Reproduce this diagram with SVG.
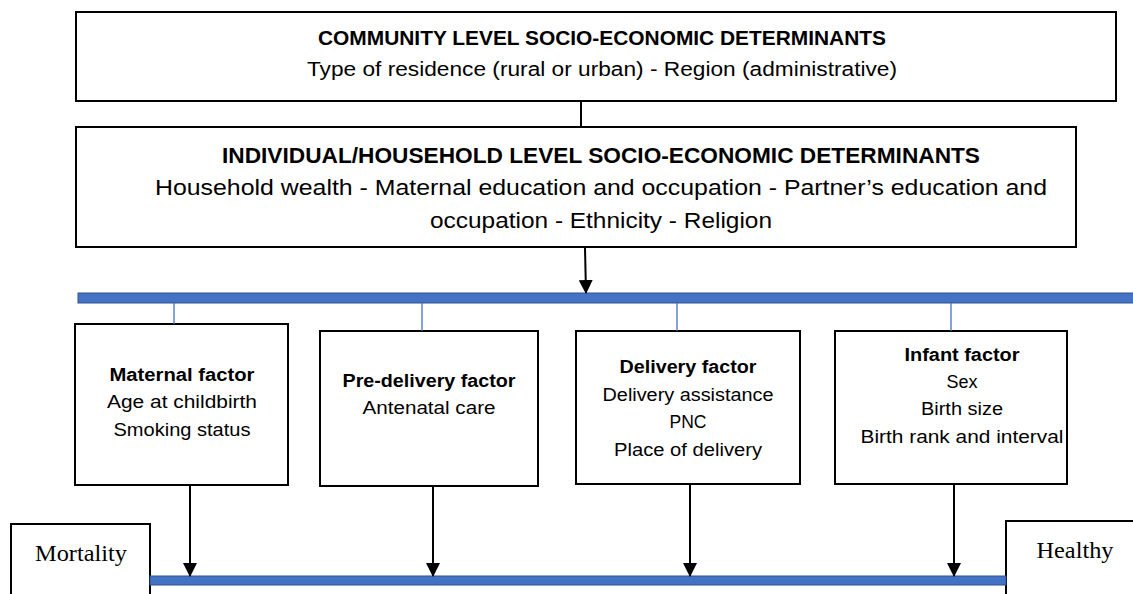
<svg xmlns="http://www.w3.org/2000/svg" width="1133" height="594" viewBox="0 0 1133 594">
<style>
.box{fill:#fff;stroke:#000;stroke-width:2}
.t{font-family:"Liberation Sans",Arial,sans-serif;text-anchor:middle;fill:#000}
.b{font-weight:bold}
.tm{font-family:"Liberation Serif","Times New Roman",serif;text-anchor:middle;fill:#000;font-size:23px}
.bar{fill:#4472C4;stroke:#2F528F;stroke-width:1}
.tick{stroke:#4472C4;stroke-width:1.3}
.arr{stroke:#000;stroke-width:2;fill:none}
</style>
<defs>
<marker id="ah" viewBox="0 0 14 14" refX="13" refY="7" markerWidth="14" markerHeight="14" markerUnits="userSpaceOnUse" orient="auto">
<path d="M0,0 L14,7 L0,14 Z" fill="#000"/>
</marker>
</defs>
<rect width="1133" height="594" fill="#fff"/>
<g id="community">
<rect class="box" x="76" y="12" width="1040" height="89"/>
<text class="t b" x="602" y="45" font-size="20" textLength="568" lengthAdjust="spacingAndGlyphs">COMMUNITY LEVEL SOCIO-ECONOMIC DETERMINANTS</text>
<text class="t" x="602" y="76" font-size="20" textLength="590" lengthAdjust="spacingAndGlyphs">Type of residence (rural or urban) - Region (administrative)</text>
</g>
<g id="individual">
<rect class="box" x="76" y="127" width="1000" height="120"/>
<text class="t b" x="601" y="163" font-size="22" textLength="758" lengthAdjust="spacingAndGlyphs">INDIVIDUAL/HOUSEHOLD LEVEL SOCIO-ECONOMIC DETERMINANTS</text>
<text class="t" x="601" y="195" font-size="22" textLength="892" lengthAdjust="spacingAndGlyphs">Household wealth - Maternal education and occupation - Partner’s education and</text>
<text class="t" x="601" y="228" font-size="22" textLength="342" lengthAdjust="spacingAndGlyphs">occupation - Ethnicity - Religion</text>
</g>
<g id="bar-top">
<rect class="bar" x="78" y="293" width="1060" height="10"/>
</g>
<g id="maternal">
<rect class="box" x="75" y="324" width="213" height="161"/>
<text class="t b" x="182" y="381" font-size="17.5" textLength="145" lengthAdjust="spacingAndGlyphs">Maternal factor</text>
<text class="t" x="182" y="408" font-size="17.5" textLength="150" lengthAdjust="spacingAndGlyphs">Age at childbirth</text>
<text class="t" x="182" y="436" font-size="17.5" textLength="137" lengthAdjust="spacingAndGlyphs">Smoking status</text>
</g>
<g id="predelivery">
<rect class="box" x="320" y="331" width="218" height="155"/>
<text class="t b" x="429" y="387" font-size="17.5" textLength="173" lengthAdjust="spacingAndGlyphs">Pre-delivery factor</text>
<text class="t" x="429" y="414" font-size="17.5" textLength="133" lengthAdjust="spacingAndGlyphs">Antenatal care</text>
</g>
<g id="delivery">
<rect class="box" x="576" y="331" width="224" height="153"/>
<text class="t b" x="688" y="373" font-size="17.5" textLength="137" lengthAdjust="spacingAndGlyphs">Delivery factor</text>
<text class="t" x="688" y="401" font-size="17.5" textLength="171" lengthAdjust="spacingAndGlyphs">Delivery assistance</text>
<text class="t" x="688" y="428" font-size="17.5" textLength="37" lengthAdjust="spacingAndGlyphs">PNC</text>
<text class="t" x="688" y="456" font-size="17.5" textLength="148" lengthAdjust="spacingAndGlyphs">Place of delivery</text>
</g>
<g id="infant">
<rect class="box" x="835" y="331" width="232" height="153"/>
<text class="t b" x="962" y="361" font-size="17.5" textLength="115" lengthAdjust="spacingAndGlyphs">Infant factor</text>
<text class="t" x="962" y="388" font-size="17.5" textLength="31" lengthAdjust="spacingAndGlyphs">Sex</text>
<text class="t" x="962" y="415" font-size="17.5" textLength="82" lengthAdjust="spacingAndGlyphs">Birth size</text>
<text class="t" x="962" y="443" font-size="17.5" textLength="203" lengthAdjust="spacingAndGlyphs">Birth rank and interval</text>
</g>
<g id="mortality">
<rect class="box" x="11" y="524" width="139" height="80"/>
<text class="tm" x="81" y="561" textLength="92" lengthAdjust="spacingAndGlyphs">Mortality</text>
</g>
<g id="healthy">
<rect class="box" x="1006" y="521" width="140" height="83"/>
<text class="tm" x="1075" y="558" textLength="77" lengthAdjust="spacingAndGlyphs">Healthy</text>
</g>
<g id="bar-bottom">
<rect class="bar" x="150" y="576" width="856" height="9"/>
</g>
<g id="connectors">
<line class="arr" x1="581" y1="101" x2="581" y2="127"/>
<line class="arr" x1="585" y1="248" x2="586" y2="293" marker-end="url(#ah)"/>
<line class="tick" x1="174" y1="303" x2="174" y2="324"/>
<line class="tick" x1="422" y1="303" x2="422" y2="331"/>
<line class="tick" x1="677" y1="303" x2="677" y2="331"/>
<line class="tick" x1="951" y1="303" x2="951" y2="331"/>
<line class="arr" x1="190" y1="485" x2="190" y2="576" marker-end="url(#ah)"/>
<line class="arr" x1="433" y1="486" x2="433" y2="576" marker-end="url(#ah)"/>
<line class="arr" x1="690" y1="484" x2="690" y2="576" marker-end="url(#ah)"/>
<line class="arr" x1="954" y1="484" x2="954" y2="576" marker-end="url(#ah)"/>
</g>
</svg>
